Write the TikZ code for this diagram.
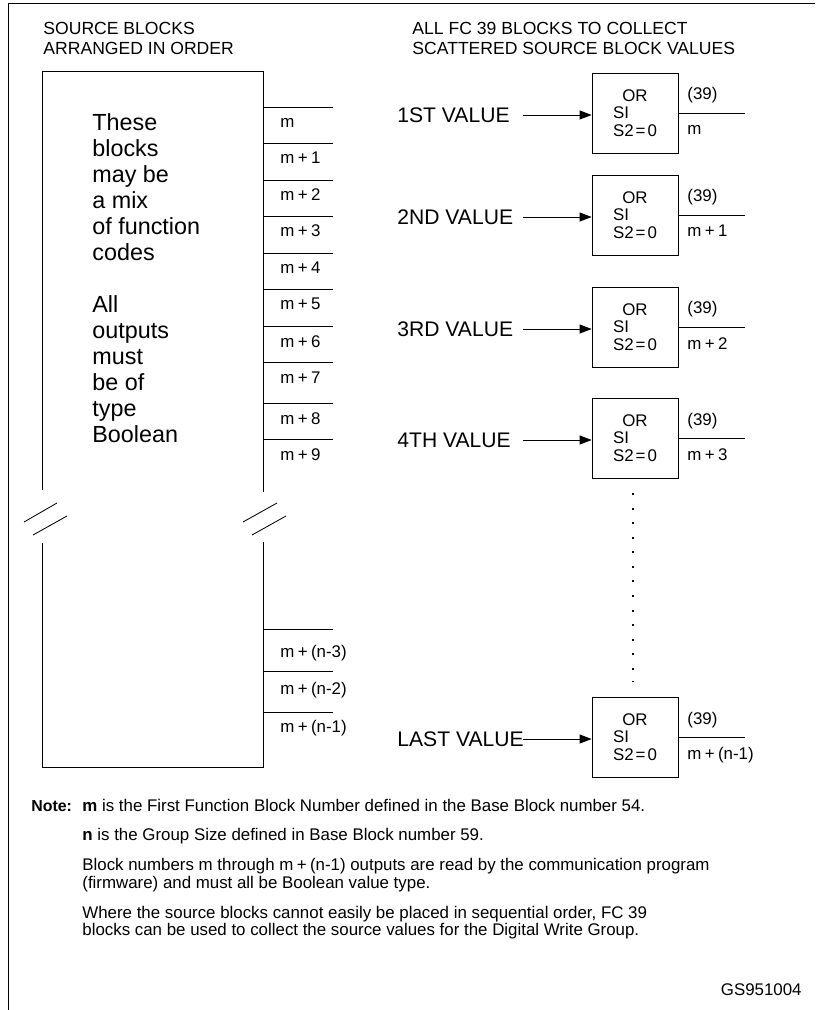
\documentclass[tikz,border=0pt]{standalone}
\usepackage{fontspec}
\setmainfont{Liberation Sans}
\usetikzlibrary{arrows.meta}

\newcommand{\pls}{\kern.2em+\kern.2em}
\newcommand{\eqs}{\kern.12em=\kern.12em}

\tikzset{
  title/.style={anchor=north west, inner sep=0, align=left,
    font=\fontsize{12.5}{14.2}\selectfont},
  srctext/.style={anchor=north west, inner sep=0, align=left,
    font=\fontsize{16.6}{18.5}\selectfont},
  vallbl/.style={anchor=west, inner sep=0, font=\fontsize{15}{18}\selectfont},
  outlbl/.style={anchor=base west, inner sep=0, font=\fontsize{12}{14}\selectfont},
  fcbox/.style={draw, minimum width=2.15cm, minimum height=2cm, inner sep=0,
    align=left, font=\fontsize{12}{12.4}\selectfont},
  arr/.style={-{Triangle[length=8.5pt,width=6.4pt]}},
  notetext/.style={anchor=north west, inner sep=0, align=left,
    font=\fontsize{12}{11}\selectfont}
}

\begin{document}
\begin{tikzpicture}[x=0.025cm, y=-0.025cm, line width=0.6pt]
  \useasboundingbox (0,0) rectangle (815,1010);
  \draw (8,1010) -- (8,3) -- (815,3);

  % headings
  \node[title] (srchead) at (43,22) {SOURCE BLOCKS\\ARRANGED IN ORDER};
  \node[title] (fchead) at (412,22) {ALL FC 39 BLOCKS TO COLLECT\\SCATTERED SOURCE BLOCK VALUES};

  % source blocks, broken in the middle
  \draw (42,490) -- (42,71) -- (263,71) -- (263,492);
  \draw (42,543) -- (42,767) -- (263,767) -- (263,542);
  \draw (24,522) -- (57,503);
  \draw (33,535) -- (67,516);
  \draw (243,522) -- (277,503);
  \draw (252,535) -- (286,516);
  \node[srctext] (mix) at (92,113) {These\\blocks\\may be\\a mix\\of function\\codes\\[18.5pt]
    All\\outputs\\must\\be of\\type\\Boolean};

  \foreach \y/\lab [count=\i] in {107/m, 143/m\pls 1, 180/m\pls 2, 216/m\pls 3,
      253/m\pls 4, 289/m\pls 5, 326/m\pls 6, 362/m\pls 7, 403/m\pls 8, 439/m\pls 9} {
    \draw (263,\y) -- (333,\y);
    \node[outlbl] (s\i) at (280,\y+21) {\lab};
  }
  \foreach \y/\b/\lab [count=\i] in {629/657/m\pls (n-3), 671/694/m\pls (n-2), 712/732/m\pls (n-1)} {
    \draw (263,\y) -- (333,\y);
    \node[outlbl] (t\i) at (280,\b) {\lab};
  }

  % FC 39 blocks
  \foreach \t/\v/\o [count=\i] in {73/1ST VALUE/m, 175/2ND VALUE/m\pls 1, 287/3RD VALUE/m\pls 2,
      398/4TH VALUE/m\pls 3, 697/LAST VALUE/m\pls (n-1)} {
    \node[fcbox] (b\i) at (635,\t+40) {\hspace*{.55em}OR\\SI\\S2\eqs 0};
    \node[vallbl] (v\i) at (397,\t+42) {\v};
    \coordinate (a\i) at (523,\t+42);
    \draw[arr] (a\i) -- (a\i -| b\i.west);
    \draw (b\i.east) -- ++(67,0) coordinate (o\i);
    \node[outlbl] (n\i) at (687,\t+27) {(39)};
    \node[outlbl] (q\i) at (687,\t+62) {\o};
  }
  \foreach \k in {0,...,12}
    \fill (632,493+14.58*\k) rectangle ++(2,2);
  \fill (632,681) rectangle ++(2,0.7);

  % notes
  \node[notetext, font=\fontsize{11.3}{11}\selectfont] (note) at (31,800) {\textbf{Note:}};
  \node[notetext] (notes) at (82,799) {\textbf{m} is the First Function Block Number defined in the Base Block number 54.\\[9.5pt]
    \textbf{n} is the Group Size defined in Base Block number 59.\\[9.5pt]
    Block numbers m through m\pls (n-1) outputs are read by the communication program\\
    (firmware) and must all be Boolean value type.\\[9.5pt]
    Where the source blocks cannot easily be placed in sequential order, FC 39\\
    blocks can be used to collect the source values for the Digital Write Group.};
  \node[notetext, anchor=base east] (gs) at (802,995) {GS951004};
\end{tikzpicture}
\end{document}
